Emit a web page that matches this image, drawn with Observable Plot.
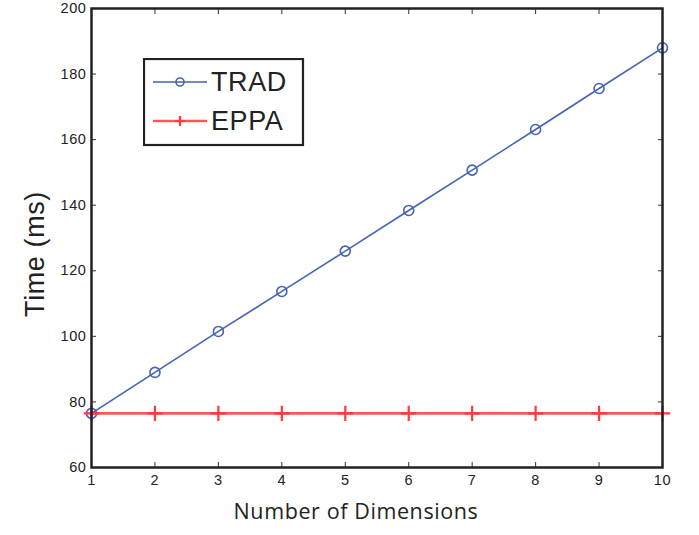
<!DOCTYPE html>
<html>
<head>
<meta charset="utf-8">
<script src="https://cdn.jsdelivr.net/npm/d3@7"></script>
<script src="https://cdn.jsdelivr.net/npm/@observablehq/plot@0.6"></script>
<style>
  html, body { margin: 0; padding: 0; background: #fff; }
  #wrap { position: relative; width: 699px; height: 535px; }
  #legend { position: absolute; left: 143px; top: 58px; }
  #wrap svg text { letter-spacing: 0.6px; }
</style>
</head>
<body>
<div id="wrap"></div>
<script>
const dimensions = [1, 2, 3, 4, 5, 6, 7, 8, 9, 10];
const tradTime = [76.5, 89, 101.5, 113.7, 126, 138.4, 150.7, 163.1, 175.6, 188];
const eppaTime = [76.5, 76.5, 76.5, 76.5, 76.5, 76.5, 76.5, 76.5, 76.5, 76.5];
const yTicks = [60, 80, 100, 120, 140, 160, 180, 200];
const seriesNames = ["TRAD", "EPPA"];
const xLabel = "Number of Dimensions";
const yLabel = "Time (ms)";

const blue = "#4563b5";
const red = "#ff3a3a";

const trad = dimensions.map((d, i) => ({d, t: tradTime[i]}));
const eppa = dimensions.map((d, i) => ({d, t: eppaTime[i]}));

const chart = Plot.plot({
  width: 699,
  height: 535,
  marginLeft: 91,
  marginRight: 37,
  marginTop: 8,
  marginBottom: 68,
  style: {background: "#fff", fontFamily: "Liberation Sans, Arial, sans-serif"},
  x: {domain: [1, 10]},
  y: {domain: [60, 200]},
  marks: [
    Plot.axisX(dimensions, {tickSize: 0, tickPadding: 7, fontSize: 14.5, fill: "#222", label: null}),
    Plot.axisX(dimensions, {tickSize: -5, tickFormat: () => "", label: null, stroke: "#333"}),
    Plot.axisX(dimensions, {anchor: "top", tickSize: -5, tickFormat: () => "", label: null, stroke: "#333"}),
    Plot.axisY(yTicks, {tickSize: 0, tickPadding: 5, fontSize: 14.5, fill: "#222", label: null}),
    Plot.axisY(yTicks, {tickSize: -5, tickFormat: () => "", label: null, stroke: "#333"}),
    Plot.axisY(yTicks, {anchor: "right", tickSize: -5, tickFormat: () => "", label: null, stroke: "#333"}),
    Plot.line(trad, {x: "d", y: "t", stroke: blue, strokeWidth: 1.6}),
    Plot.dot(trad, {x: "d", y: "t", r: 5, stroke: blue, strokeWidth: 1.6, fill: "none"}),
    Plot.line(eppa, {x: "d", y: "t", stroke: red, strokeWidth: 2.6, strokeOpacity: 0.85}),
    Plot.dot(eppa, {x: "d", y: "t", symbol: "plus", r: 5, stroke: red, strokeWidth: 2.2}),
    Plot.frame({stroke: "#222", strokeWidth: 2.5}),
    Plot.text([xLabel], {frameAnchor: "bottom", dx: -21, dy: 51, fontSize: 21.5, fontFamily: "Open Sans", fill: "#222"}),
    Plot.text([yLabel], {frameAnchor: "left", textAnchor: "middle", dx: -56, dy: 16, rotate: -90, fontSize: 27, fontFamily: "Liberation Sans, Arial, sans-serif", fill: "#222"})
  ]
});

const wrap = document.getElementById("wrap");
wrap.appendChild(chart);

// Legend
const colors = [blue, red];
const leg = d3.select(wrap).append("svg").attr("id", "legend").attr("width", 162).attr("height", 90);
leg.append("rect").attr("x", 1).attr("y", 1).attr("width", 159).attr("height", 86)
  .attr("fill", "#fff").attr("stroke", "#222").attr("stroke-width", 2.2);
seriesNames.forEach((name, i) => {
  const cy = 24 + i * 39;
  const g = leg.append("g");
  g.append("line").attr("x1", 10).attr("x2", 64).attr("y1", cy).attr("y2", cy)
    .attr("stroke", colors[i]).attr("stroke-width", i === 0 ? 1.6 : 2.6).attr("stroke-opacity", i === 0 ? 1 : 0.85);
  if (i === 0) {
    g.append("circle").attr("cx", 37).attr("cy", cy).attr("r", 4).attr("fill", "none").attr("stroke", colors[i]).attr("stroke-width", 1.6);
  } else {
    g.append("path").attr("d", `M${37-5},${cy}H${37+5}M37,${cy-5}V${cy+5}`).attr("stroke", colors[i]).attr("stroke-width", 2.2);
  }
  g.append("text").attr("x", 68).attr("y", cy + 9).attr("font-size", 27).attr("letter-spacing", "1px")
    .attr("font-family", "Liberation Sans, Arial, sans-serif").attr("fill", "#222").text(name);
});
</script>
</body>
</html>
